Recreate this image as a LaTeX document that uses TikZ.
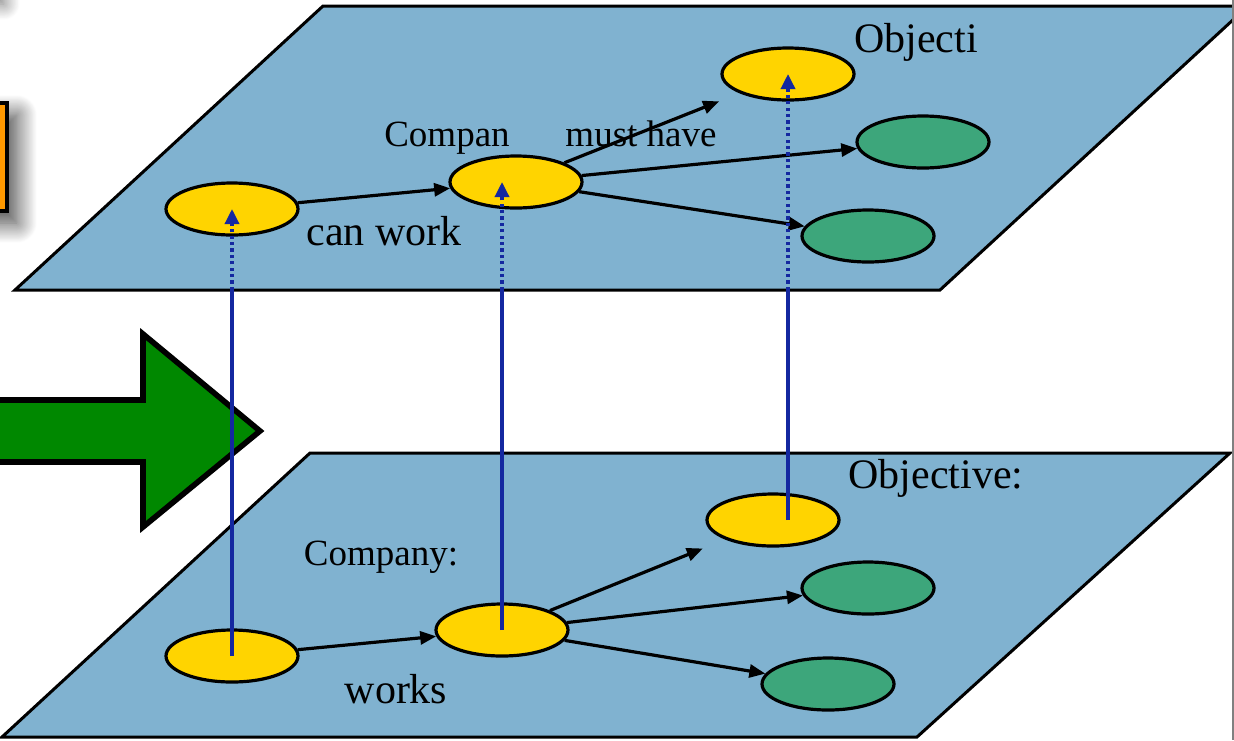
\documentclass[tikz,border=0pt]{standalone}
\usepackage{fontspec}
\setmainfont{Liberation Serif}
\usetikzlibrary{positioning, arrows.meta, shapes.geometric, shadows.blur}

\definecolor{planeblue}{RGB}{128,178,208}
\definecolor{keyyellow}{RGB}{255,212,0}
\definecolor{goalgreen}{RGB}{61,166,123}
\definecolor{arrowgreen}{RGB}{0,136,0}
\definecolor{boxorange}{RGB}{255,153,0}
\definecolor{riserblue}{RGB}{20,40,160}

\begin{document}
\begin{tikzpicture}[
    x=0.5pt, y=-0.5pt,
    layer/.style={draw, line width=1.5pt, fill=planeblue, line join=miter},
    concept/.style={ellipse, draw, line width=1.6pt, minimum width=66pt, minimum height=26pt, inner sep=0pt},
    keynode/.style={concept, fill=keyyellow},
    goalnode/.style={concept, fill=goalgreen},
    arrow/.style={-{Triangle[length=8pt, width=6.5pt, fill=black]}, line width=1.6pt},
    riser/.style={draw=riserblue, line width=1.7pt},
    dots/.style={dash pattern=on 1.6pt off 1.6pt},
    risetip/.style={-{Triangle[length=7.5pt, width=7pt, fill=riserblue]}},
    bigtext/.style={font=\fontsize{21}{25}\selectfont, inner sep=0pt, anchor=base},
    smalltext/.style={font=\fontsize{18.5}{22}\selectfont, inner sep=0pt, anchor=base}
]

    \useasboundingbox (0,0) rectangle (1234,740);
    \clip (0,0) rectangle (1234,740);

    % boxes sticking in from the left edge
    \path[blur shadow={shadow xshift=4pt, shadow yshift=-4pt, shadow blur radius=8pt,
          shadow blur steps=25, shadow opacity=55}]
        (-120,-120) rectangle (-4,-4);
    \draw[line width=2.2pt, fill=boxorange,
          blur shadow={shadow xshift=5pt, shadow yshift=-6pt, shadow blur radius=10pt,
          shadow blur steps=25, shadow opacity=75}]
        (-100,103) rectangle (7,211);

    % the two planes
    \draw[layer] (2,737) -- (917,737) -- (1230,453) -- (310,453) -- cycle;
    \draw[layer] (15,290) -- (940,290) -- (1248,6) -- (323,6) -- cycle;
    \coordinate (tfront) at (0,290);

    % big green arrow
    \draw[line width=2.8pt, fill=arrowgreen, line join=miter]
        (-20,400) -- (143,400) -- (143,334) -- (260,431) -- (143,527) -- (143,462) -- (-20,462) -- cycle;

    % lower plane
    \node[keynode] (l1) at (232,656) {};
    \node[keynode] (l2) at (502,630) {};
    \node[keynode] (l3) at (773,520) {};
    \node[goalnode] (l4) at (868,588) {};
    \node[goalnode] (l5) at (828,684) {};

    \draw[arrow] (l1) -- (l2);
    \draw[arrow, shorten >=12pt] (l2) -- (l3);
    \draw[arrow] (l2) -- (l4);
    \draw[arrow] (l2) -- (l5);

    \node[smalltext] (lcomp) at (381,565) {Company:};
    \node[bigtext] (lobj) at (936,488) {Objective:};
    \node[bigtext] (lworks) at (396,703) {works};

    % upper plane
    \node[keynode] (u1) at (232,209) {};
    \node[keynode] (u2) at (516,182) {};
    \node[keynode] (u3) at (788,74) {};
    \node[goalnode] (u4) at (923,142) {};
    \node[goalnode] (u5) at (868,236) {};

    \draw[arrow] (u1) -- (u2);
    \draw[arrow, shorten >=11pt] (u2) -- (u3);
    \draw[arrow] (u2) -- (u4);
    \draw[arrow] (u2) -- (u5);

    \node[smalltext] (ucomp) at (447,146) {Compan};
    \node[smalltext] (umust) at (641,146) {must have};
    \node[bigtext] (uobj) at (916,52) {Objecti};
    \node[bigtext] (uwork) at (384,245) {can work};

    % risers from the lower plane up to the upper one
    \draw[riser] (l1.center) -- (l1.center |- tfront);
    \draw[riser, dots, risetip] (l1.center |- tfront) -- (u1.center);
    \draw[riser] (l2.center) -- (l2.center |- tfront);
    \draw[riser, dots, risetip] (l2.center |- tfront) -- (l2.center |- u2.center);
    \draw[riser] (u3.center |- l3.center) -- (u3.center |- tfront);
    \draw[riser, dots, risetip] (u3.center |- tfront) -- (u3.center);

    % frame
    \draw[gray, line width=0.6pt] (1233,0) -- (1233,740);

\end{tikzpicture}
\end{document}
